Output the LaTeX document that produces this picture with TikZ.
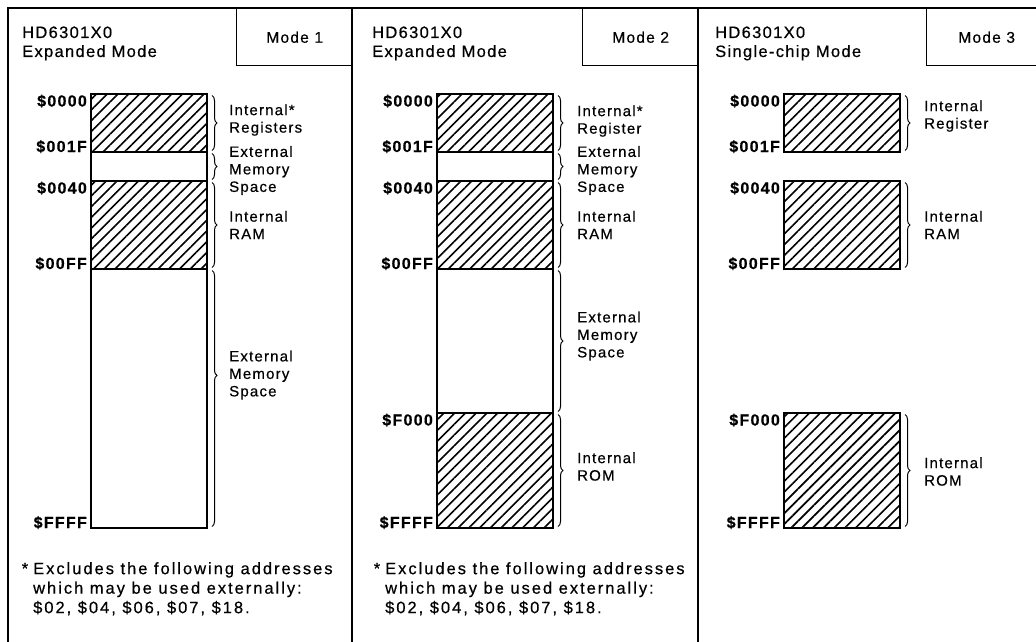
\documentclass[tikz,border=0pt]{standalone}
\usepackage{fontspec}
\setmainfont{Liberation Sans}[LetterSpace=8, FakeBold=0.5]
\usepackage{tikz}
\usetikzlibrary{positioning, patterns.meta, decorations.pathreplacing}
\tikzstyle{frame} = [line width = 1.4pt]
\tikzstyle{modebox} = [rectangle, draw = black, line width = 1.4pt,
  minimum width = 116, minimum height = 57, anchor = north west,
  inner sep = 0, font = \fontsize{15.5}{17}\selectfont]
\tikzstyle{mem} = [
  rectangle, draw = black, line width = 2.6pt,
  minimum width = 116, inner sep = 0, outer sep = 0
]
\tikzstyle{hatched} = [mem, pattern = {Lines[angle = 45, distance = 7.6pt,
  line width = 1.6pt]}]
\tikzstyle{blank} = [mem, fill = white]
\tikzstyle{addr} = [inner sep = 0, anchor = base east,
  font = \fontsize{16}{18}\selectfont\bfseries]
\tikzstyle{lbl} = [inner sep = 0, anchor = west, align = left,
  font = \fontsize{15}{17.5}\selectfont]
\tikzstyle{title} = [inner sep = 0, anchor = base west,
  font = \fontsize{16.5}{18}\selectfont]
\tikzstyle{note} = [inner sep = 0, anchor = north west, align = left,
  font = \fontsize{16.5}{19.5}\selectfont\addfontfeatures{LetterSpace=12}]
\tikzstyle{memspan} = [decorate, decoration = {brace, amplitude = 5pt},
  line width = 1pt]

\begin{document}
\begin{tikzpicture}[x = 1pt, y = -1pt, node distance = 0]
    \clip (0, 0) rectangle (1036, 642);

    % frame and headings
    \draw [frame] (8, 650) -- (8, 8) -- (1050, 8);
    \draw [frame] (352, 8) -- (352, 650);
    \draw [frame] (698, 8) -- (698, 650);
    \node [modebox] (mode-1) at (236, 8) {Mode 1};
    \node [modebox] (mode-2) at (582, 8) {Mode 2};
    \node [modebox, minimum width = 120] (mode-3) at (926, 8) {Mode 3};
    \node [title] (chip-1) at (22, 38) {HD6301X0};
    \node [title] (kind-1) at (22, 57) {Expanded Mode};
    \node [title] (chip-2) at (372, 38) {HD6301X0};
    \node [title] (kind-2) at (372, 57) {Expanded Mode};
    \node [title] (chip-3) at (715, 38) {HD6301X0};
    \node [title] (kind-3) at (715, 57) {Single-chip Mode};

    % mode 1
    \node [hatched, minimum height = 58, anchor = north west] (reg-1) at (91, 94) {};
    \node [blank, minimum height = 29, below = of reg-1] (ext-1) {};
    \node [hatched, minimum height = 88, below = of ext-1] (ram-1) {};
    \node [blank, minimum height = 259, below = of ram-1] (xmem-1) {};
    \node [addr] (a0000-1) at ([shift = {(-4pt, -12.5pt)}]reg-1.north west) {\$0000};
    \node [addr] (a001f-1) at ([xshift = -4pt]reg-1.south west) {\$001F};
    \node [addr] (a0040-1) at ([shift = {(-4pt, -12.5pt)}]ram-1.north west) {\$0040};
    \node [addr] (a00ff-1) at ([xshift = -4pt]ram-1.south west) {\$00FF};
    \node [addr] (affff-1) at ([xshift = -4pt]xmem-1.south west) {\$FFFF};
    \draw [memspan] ([xshift = 5pt, yshift = -1.5pt]reg-1.north east) -- ([xshift = 5pt, yshift = 1.5pt]reg-1.south east);
    \draw [memspan] ([xshift = 5pt, yshift = -1.5pt]ext-1.north east) -- ([xshift = 5pt, yshift = 1.5pt]ext-1.south east);
    \draw [memspan] ([xshift = 5pt, yshift = -1.5pt]ram-1.north east) -- ([xshift = 5pt, yshift = 1.5pt]ram-1.south east);
    \draw [memspan, decoration = {aspect = 0.41}] ([xshift = 5pt, yshift = -1.5pt]xmem-1.north east) -- ([xshift = 5pt, yshift = 1.5pt]xmem-1.south east);
    \node [lbl] (l-reg-1) at ([xshift = 22pt, yshift = 3pt]reg-1.east) {Internal*\\Registers};
    \node [lbl] (l-ext-1) at ([xshift = 22pt, yshift = -4pt]ext-1.east) {External\\Memory\\Space};
    \node [lbl] (l-ram-1) at ([xshift = 22pt]ram-1.east) {Internal\\RAM};
    \node [lbl] (l-xmem-1) at ([xshift = 22pt, yshift = -106pt]xmem-1.north east) {External\\Memory\\Space};
    \node [note] (note-1) at (33, 562) {\llap{*\hspace{5pt}}Excludes the following addresses\\which may be used externally:\\\$02, \$04, \$06, \$07, \$18.};

    % mode 2
    \node [hatched, minimum height = 58, anchor = north west] (reg-2) at (437, 94) {};
    \node [blank, minimum height = 29, below = of reg-2] (ext-2) {};
    \node [hatched, minimum height = 88, below = of ext-2] (ram-2) {};
    \node [blank, minimum height = 144, below = of ram-2] (xmem-2) {};
    \node [hatched, minimum height = 115, below = of xmem-2] (rom-2) {};
    \node [addr] (a0000-2) at ([shift = {(-4pt, -12.5pt)}]reg-2.north west) {\$0000};
    \node [addr] (a001f-2) at ([xshift = -4pt]reg-2.south west) {\$001F};
    \node [addr] (a0040-2) at ([shift = {(-4pt, -12.5pt)}]ram-2.north west) {\$0040};
    \node [addr] (a00ff-2) at ([xshift = -4pt]ram-2.south west) {\$00FF};
    \node [addr] (af000-2) at ([shift = {(-4pt, -12.5pt)}]rom-2.north west) {\$F000};
    \node [addr] (affff-2) at ([xshift = -4pt]rom-2.south west) {\$FFFF};
    \draw [memspan] ([xshift = 5pt, yshift = -1.5pt]reg-2.north east) -- ([xshift = 5pt, yshift = 1.5pt]reg-2.south east);
    \draw [memspan] ([xshift = 5pt, yshift = -1.5pt]ext-2.north east) -- ([xshift = 5pt, yshift = 1.5pt]ext-2.south east);
    \draw [memspan] ([xshift = 5pt, yshift = -1.5pt]ram-2.north east) -- ([xshift = 5pt, yshift = 1.5pt]ram-2.south east);
    \draw [memspan] ([xshift = 5pt, yshift = -1.5pt]xmem-2.north east) -- ([xshift = 5pt, yshift = 1.5pt]xmem-2.south east);
    \draw [memspan] ([xshift = 5pt, yshift = -1.5pt]rom-2.north east) -- ([xshift = 5pt, yshift = 1.5pt]rom-2.south east);
    \node [lbl] (l-reg-2) at ([xshift = 24pt, yshift = 2pt]reg-2.east) {Internal*\\Register};
    \node [lbl] (l-ext-2) at ([xshift = 24pt, yshift = -4pt]ext-2.east) {External\\Memory\\Space};
    \node [lbl] (l-ram-2) at ([xshift = 24pt]ram-2.east) {Internal\\RAM};
    \node [lbl] (l-xmem-2) at ([xshift = 24pt, yshift = 5pt]xmem-2.east) {External\\Memory\\Space};
    \node [lbl] (l-rom-2) at ([xshift = 24pt, yshift = 4pt]rom-2.east) {Internal\\ROM};
    \node [note] (note-2) at (385, 562) {\llap{*\hspace{5pt}}Excludes the following addresses\\which may be used externally:\\\$02, \$04, \$06, \$07, \$18.};

    % mode 3
    \node [hatched, minimum height = 58, anchor = north west] (reg-3) at (784, 94) {};
    \node [hatched, minimum height = 88, below = 29pt of reg-3] (ram-3) {};
    \node [hatched, minimum height = 115, anchor = north west] (rom-3) at (784, 413) {};
    \node [addr] (a0000-3) at ([shift = {(-4pt, -12.5pt)}]reg-3.north west) {\$0000};
    \node [addr] (a001f-3) at ([xshift = -4pt]reg-3.south west) {\$001F};
    \node [addr] (a0040-3) at ([shift = {(-4pt, -12.5pt)}]ram-3.north west) {\$0040};
    \node [addr] (a00ff-3) at ([xshift = -4pt]ram-3.south west) {\$00FF};
    \node [addr] (af000-3) at ([shift = {(-4pt, -12.5pt)}]rom-3.north west) {\$F000};
    \node [addr] (affff-3) at ([xshift = -4pt]rom-3.south west) {\$FFFF};
    \draw [memspan] ([xshift = 5pt, yshift = -1.5pt]reg-3.north east) -- ([xshift = 5pt, yshift = 1.5pt]reg-3.south east);
    \draw [memspan] ([xshift = 5pt, yshift = -1.5pt]ram-3.north east) -- ([xshift = 5pt, yshift = 1.5pt]ram-3.south east);
    \draw [memspan] ([xshift = 5pt, yshift = -1.5pt]rom-3.north east) -- ([xshift = 5pt, yshift = 1.5pt]rom-3.south east);
    \node [lbl] (l-reg-3) at ([xshift = 24pt, yshift = 7pt]reg-3.east) {Internal\\Register};
    \node [lbl] (l-ram-3) at ([xshift = 24pt]ram-3.east) {Internal\\RAM};
    \node [lbl] (l-rom-3) at ([xshift = 24pt, yshift = -1pt]rom-3.east) {Internal\\ROM};
\end{tikzpicture}
\end{document}
